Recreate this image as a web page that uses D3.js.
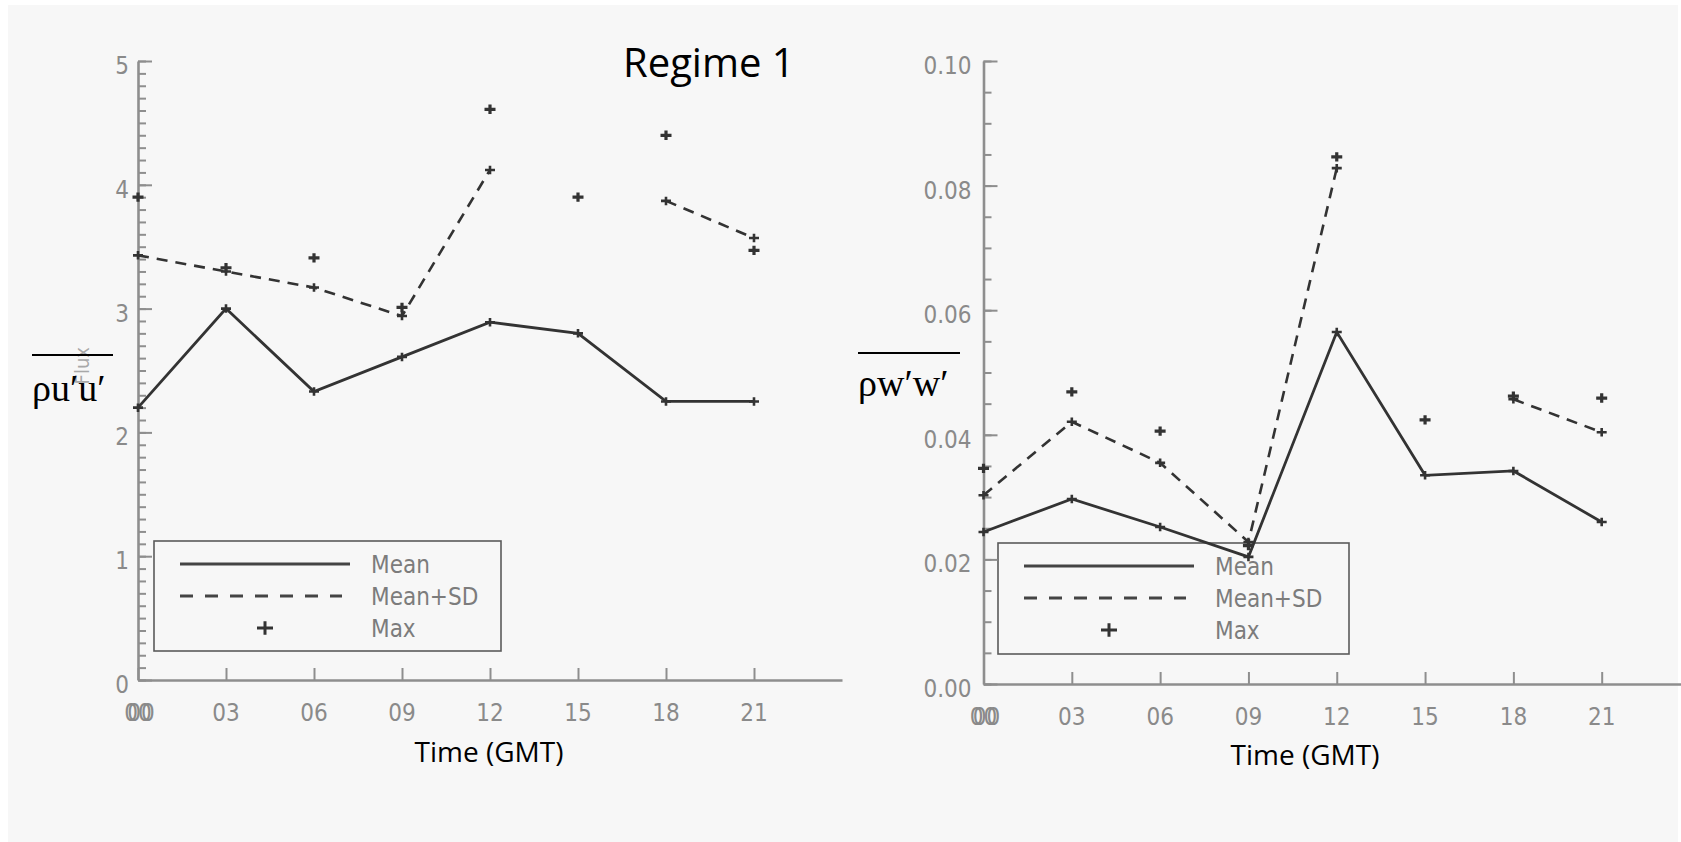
<!DOCTYPE html>
<html>
<head>
<meta charset="utf-8">
<script src="https://cdn.jsdelivr.net/npm/d3@7"></script>
<style>
  html, body { margin: 0; padding: 0; background: #ffffff; }
  svg { display: block; }
</style>
</head>
<body>
<svg id="chart" width="1681" height="842"></svg>
<script>
// data
var hours = [0, 3, 6, 9, 12, 15, 18, 21];
var hourLabels = ["00", "03", "06", "09", "12", "15", "18", "21"];

// left panel: rho u'u'
var uMean   = [2.20, 3.00, 2.33, 2.61, 2.89, 2.80, 2.25, 2.25];
var uMeanSD = [3.43, 3.30, 3.17, 2.94, 4.12, null, 3.87, 3.57];
var uMax    = [3.90, 3.33, 3.41, 3.01, 4.61, 3.90, 4.40, 3.47];
var uTicks  = [0, 1, 2, 3, 4, 5];

// right panel: rho w'w'
var wMean   = [0.0244, 0.0297, 0.0252, 0.0204, 0.0565, 0.0335, 0.0342, 0.0260];
var wMeanSD = [0.0303, 0.0421, 0.0355, 0.0228, 0.0828, null, 0.0457, 0.0404];
var wMax    = [0.0346, 0.0469, 0.0406, 0.0222, 0.0846, 0.0424, 0.0462, 0.0459];
var wTicks  = [0, 0.02, 0.04, 0.06, 0.08, 0.10];

var legendNames = ["Mean", "Mean+SD", "Max"];

var svg = d3.select("#chart");
var axisCol = "#8e8e8e";
var dataCol = "#333333";
var tickFont = "'DejaVu Sans Condensed', 'DejaVu Sans', sans-serif";

svg.append("rect").attr("x", 8).attr("y", 5).attr("width", 1670).attr("height", 837).attr("fill", "#f7f7f7");

function plus(sel, x, y, s, w) {
  sel.append("path")
    .attr("d", "M" + (x - s) + "," + y + "H" + (x + s) + "M" + x + "," + (y - s * 0.85) + "V" + (y + s * 0.85))
    .attr("stroke", dataCol).attr("stroke-width", w).attr("fill", "none");
}

function drawPanel(p) {
  var g = svg.append("g");
  var x = d3.scaleLinear().domain([0, 24]).range([p.x0, p.x1]);
  var y = d3.scaleLinear().domain([0, p.ymax]).range([p.y0, p.y1]);

  // legend box (drawn under the data)
  var lg = g.append("g");
  lg.append("rect").attr("x", p.leg[0]).attr("y", p.leg[1]).attr("width", p.leg[2]).attr("height", p.leg[3])
    .attr("fill", "none").attr("stroke", "#5a5a5a").attr("stroke-width", 1.6);
  var lx = p.leg[0] + 26, ly = p.leg[1] + 23;
  lg.append("line").attr("x1", lx).attr("x2", lx + 170).attr("y1", ly).attr("y2", ly)
    .attr("stroke", "#444").attr("stroke-width", 3);
  lg.append("line").attr("x1", lx).attr("x2", lx + 162).attr("y1", ly + 32).attr("y2", ly + 32)
    .attr("stroke", "#444").attr("stroke-width", 3).attr("stroke-dasharray", "13,12");
  plus(lg, lx + 85, ly + 64, 8, 3);
  lg.selectAll("text.leg").data(legendNames).enter().append("text")
    .attr("x", lx + 191).attr("y", function(d, i) { return ly + 9 + i * 32; })
    .attr("font-family", tickFont).attr("font-size", 24).attr("fill", "#7c7c7c")
    .text(function(d) { return d; });

  // y axis: minor then major ticks
  var minor = d3.range(0, Math.round(p.ymax / p.minorStep) + 1).map(function(i) { return i * p.minorStep; });
  g.append("g").attr("transform", "translate(" + p.x0 + ",0)")
    .call(d3.axisRight(y).tickValues(minor).tickSize(8).tickSizeOuter(0).tickFormat(""))
    .call(function(a) {
      a.select(".domain").attr("stroke", axisCol).attr("stroke-width", 2.6);
      a.selectAll(".tick line").attr("stroke", axisCol).attr("stroke-width", 2);
    });
  g.append("g").attr("transform", "translate(" + p.x0 + ",0)")
    .call(d3.axisRight(y).tickValues(p.ticks).tickSize(14).tickFormat(""))
    .call(function(a) {
      a.select(".domain").remove();
      a.selectAll(".tick line").attr("stroke", axisCol).attr("stroke-width", 2);
    });
  g.selectAll("text.ylab").data(p.ticks).enter().append("text")
    .attr("x", p.x0 - p.labGap).attr("y", function(d) { return y(d) + 13; })
    .attr("text-anchor", "end").attr("font-family", tickFont).attr("font-size", 24).attr("fill", "#8a8a8a")
    .text(p.fmt);

  // x axis
  g.append("g").attr("transform", "translate(0," + p.y0 + ")")
    .call(d3.axisTop(x).tickValues(hours).tickSize(12).tickSizeOuter(0).tickFormat(""))
    .call(function(a) {
      a.select(".domain").attr("stroke", axisCol).attr("stroke-width", 2.6);
      a.selectAll(".tick line").attr("stroke", axisCol).attr("stroke-width", 2);
    });
  g.selectAll("text.xlab").data(hours).enter().append("text")
    .attr("x", function(d) { return x(d); }).attr("y", p.y0 + 41)
    .attr("text-anchor", "middle").attr("font-family", tickFont).attr("font-size", 24).attr("fill", "#8a8a8a")
    .text(function(d, i) { return hourLabels[i]; });
  // the overlapping second "00" label at the origin
  g.append("text").attr("x", x(0) + 3).attr("y", p.y0 + 41)
    .attr("text-anchor", "middle").attr("font-family", tickFont).attr("font-size", 24).attr("fill", "#8a8a8a")
    .text("00");

  // data
  var line = d3.line().defined(function(d) { return d[1] != null; })
    .x(function(d) { return x(d[0]); }).y(function(d) { return y(d[1]); });
  var meanPts = hours.map(function(h, i) { return [h, p.mean[i]]; });
  var sdPts = hours.map(function(h, i) { return [h, p.meanSD[i]]; });
  g.append("path").attr("d", line(meanPts)).attr("fill", "none")
    .attr("stroke", dataCol).attr("stroke-width", 2.8);
  g.append("path").attr("d", line(sdPts)).attr("fill", "none")
    .attr("stroke", dataCol).attr("stroke-width", 2.6).attr("stroke-dasharray", "11,8");
  meanPts.concat(sdPts).forEach(function(d) {
    if (d[1] != null) plus(g, x(d[0]), y(d[1]), 5, 2.6);
  });
  hours.forEach(function(h, i) { plus(g, x(h), y(p.max[i]), 5.5, 3.2); });

  // axis title
  g.append("text").attr("x", p.titleX).attr("y", p.titleY).attr("text-anchor", "middle")
    .attr("font-family", "'Open Sans', sans-serif").attr("font-size", 28).attr("fill", "#000")
    .text("Time (GMT)");
}

drawPanel({
  x0: 138, x1: 842, y0: 680, y1: 61, ymax: 5, minorStep: 0.1,
  ticks: uTicks, fmt: function(d) { return d3.format("d")(d); }, labGap: 9,
  mean: uMean, meanSD: uMeanSD, max: uMax,
  leg: [154, 541, 347, 110], titleX: 489, titleY: 762
});
drawPanel({
  x0: 983.5, x1: 1690, y0: 684, y1: 61, ymax: 0.1, minorStep: 0.005,
  ticks: wTicks, fmt: function(d) { return d3.format(".2f")(d); }, labGap: 12,
  mean: wMean, meanSD: wMeanSD, max: wMax,
  leg: [998, 543, 351, 111], titleX: 1305, titleY: 765
});

// faded original "Flux" label behind the overlay
svg.append("text").attr("transform", "translate(89,347) rotate(-90)").attr("text-anchor", "end")
  .attr("font-family", tickFont).attr("font-size", 20).attr("fill", "#a8a8a8").text("Flux");

// overlaid y labels with overbars
var yLabels = [
  { text: "\u03c1u\u2032u\u2032", x: 32, y: 401, bar: [32, 113, 355] },
  { text: "\u03c1w\u2032w\u2032", x: 858, y: 396, bar: [858, 960, 353] }
];
yLabels.forEach(function(l) {
  svg.append("line").attr("x1", l.bar[0]).attr("x2", l.bar[1]).attr("y1", l.bar[2]).attr("y2", l.bar[2])
    .attr("stroke", "#000").attr("stroke-width", 2);
  svg.append("text").attr("x", l.x).attr("y", l.y)
    .attr("font-family", "'Liberation Serif', serif").attr("font-size", 38).attr("fill", "#000")
    .text(l.text);
});

svg.append("text").attr("x", 623).attr("y", 77)
  .attr("font-family", "'Open Sans', sans-serif").attr("font-size", 40).attr("fill", "#000")
  .text("Regime 1");
</script>
</body>
</html>
